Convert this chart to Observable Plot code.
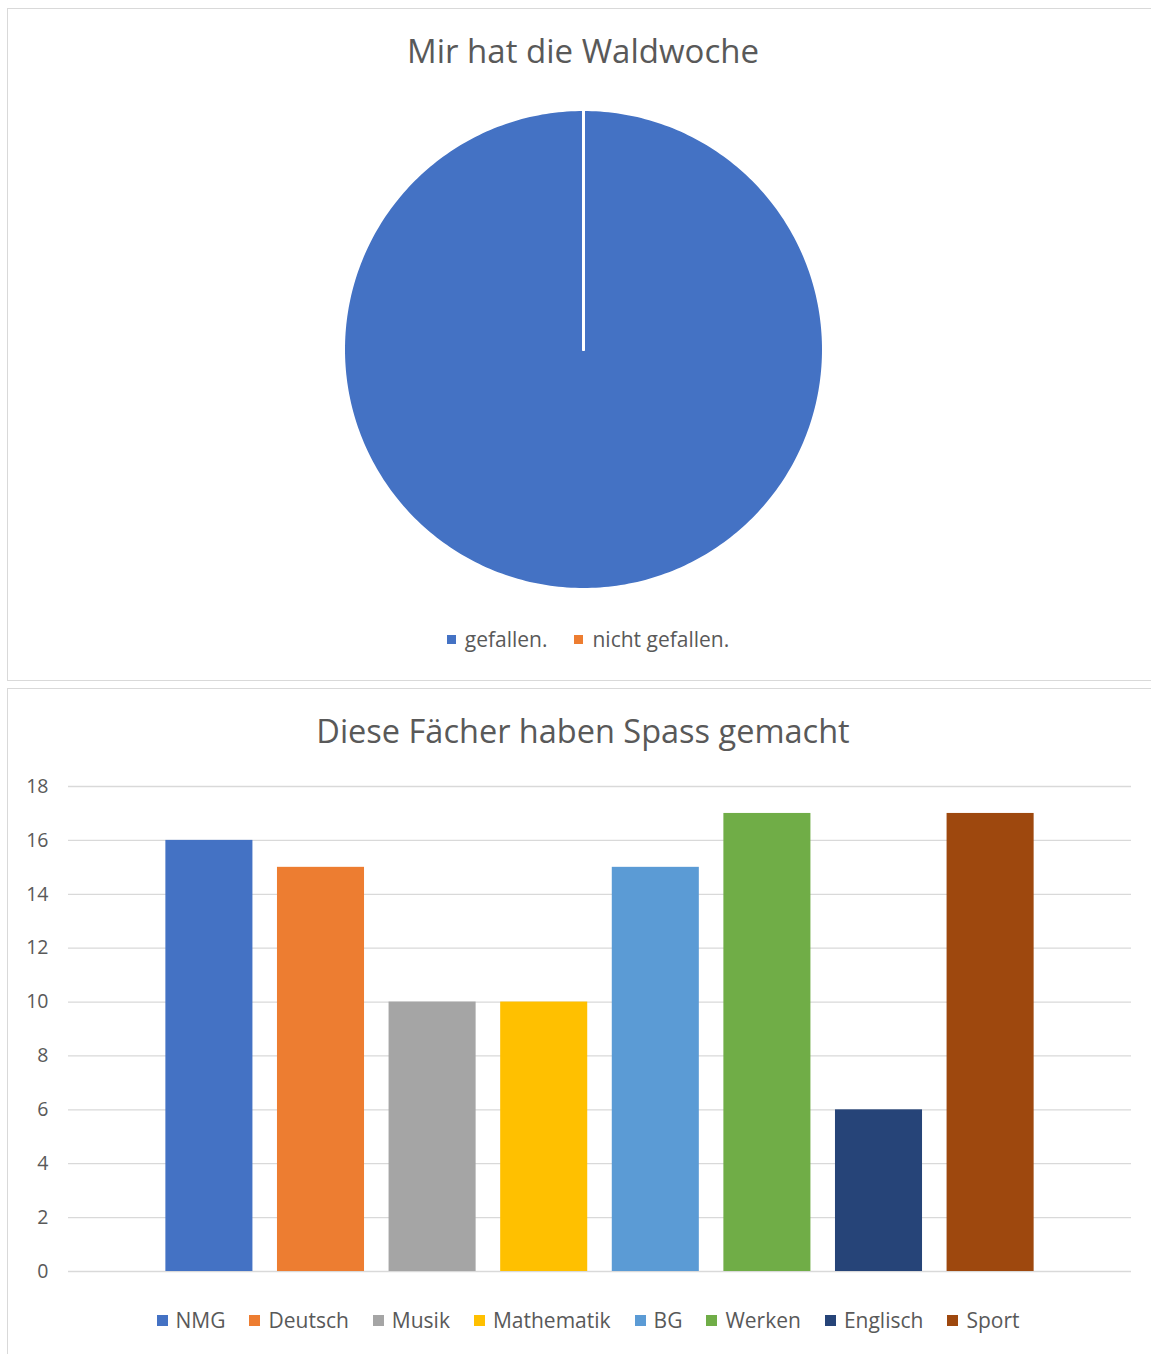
<!DOCTYPE html>
<html>
<head>
<meta charset="utf-8">
<script src="https://cdn.jsdelivr.net/npm/d3@7"></script>
<script src="https://cdn.jsdelivr.net/npm/@observablehq/plot@0.6"></script>
<style>
  html, body { margin: 0; padding: 0; background: #fff; width: 1151px; height: 1354px; overflow: hidden; }
  body { position: relative; font-family: "Open Sans", sans-serif; color: #595959; }
  .panel { position: absolute; border: 1.5px solid #d9d9d9; background: #fff; box-sizing: border-box; }
  .title { position: absolute; left: 0; width: 1166px; text-align: center; color: #595959; white-space: nowrap; }
  .legend { position: absolute; left: 0; width: 1176px; display: flex; justify-content: center; align-items: center; font-size: 21px; color: #595959; white-space: nowrap; }
  .legend .item { display: flex; align-items: center; }
  .legend .sw { display: inline-block; }
  .abs { position: absolute; }
</style>
</head>
<body>
<div class="panel" style="left:7px; top:8px; width:1160px; height:673px;"></div>
<div class="panel" style="left:7px; top:688px; width:1160px; height:700px;"></div>
<div class="title" id="t1" style="top:28px; font-size:33px;">Mir hat die Waldwoche</div>
<div class="title" id="t2" style="top:708px; font-size:32.5px;">Diese Fächer haben Spass gemacht</div>
<div class="abs" id="pie" style="left:341px; top:107px;"></div>
<div class="legend" id="leg1" style="top:625px; gap:27px;"></div>
<div class="abs" id="bars" style="left:0px; top:760px;"></div>
<div class="legend" id="leg2" style="top:1306px; gap:24px;"></div>
<script>
// ---- Data ----
const pieLabels = ["gefallen.", "nicht gefallen."];
const pieValues = [18, 0];
const pieColors = ["#4472C4", "#ED7D31"];

const subjects = ["NMG", "Deutsch", "Musik", "Mathematik", "BG", "Werken", "Englisch", "Sport"];
const subjectValues = [16, 15, 10, 10, 15, 17, 6, 17];
const subjectColors = ["#4472C4", "#ED7D31", "#A5A5A5", "#FFC000", "#5B9BD5", "#70AD47", "#264478", "#9E480E"];
const yTicks = [0, 2, 4, 6, 8, 10, 12, 14, 16, 18];

// ---- Pie ----
const arcs = d3.pie().sort(null)(pieValues);
const pieRows = [];
arcs.forEach((a, i) => {
  const label = pieLabels[i];
  pieRows.push({label, x: 0, y: 0});
  const n = Math.max(2, Math.ceil((a.endAngle - a.startAngle) / (Math.PI / 180)));
  for (let k = 0; k <= n; k++) {
    const t = a.startAngle + (a.endAngle - a.startAngle) * k / n;
    pieRows.push({label, x: Math.sin(t), y: Math.cos(t)});
  }
});
const pieSize = 484;
const pie = Plot.plot({
  width: pieSize, height: pieSize,
  margin: 2,
  x: {domain: [-1, 1], axis: null},
  y: {domain: [-1, 1], axis: null},
  color: {domain: pieLabels, range: pieColors},
  marks: [
    Plot.line(pieRows, {x: "x", y: "y", z: "label", fill: "label", stroke: "white", strokeWidth: 3, curve: "linear-closed"})
  ]
});
document.getElementById("pie").appendChild(pie);

// ---- Legends ----
function legend(el, labels, colors, sw, gapSw) {
  labels.forEach((l, i) => {
    const it = document.createElement("div");
    it.className = "item";
    const s = document.createElement("span");
    s.className = "sw";
    s.style.width = sw + "px"; s.style.height = sw + "px";
    s.style.background = colors[i];
    s.style.marginRight = gapSw + "px";
    const t = document.createElement("span");
    t.textContent = l;
    it.appendChild(s); it.appendChild(t);
    el.appendChild(it);
  });
}
legend(document.getElementById("leg1"), pieLabels, pieColors, 9, 9);
legend(document.getElementById("leg2"), subjects, subjectColors, 11, 8);

// ---- Bars ----
const barData = subjects.map((s, i) => ({subject: s, value: subjectValues[i]}));
const bars = Plot.plot({
  width: 1151, height: 530,
  marginTop: 26, marginBottom: 19, marginLeft: 68, marginRight: 20,
  style: {fontFamily: "Open Sans, sans-serif", fontSize: "19px", color: "#595959"},
  x: {domain: subjects, paddingInner: 0.22, paddingOuter: 0.8725, round: false, axis: null},
  y: {domain: [0, 18], axis: null},
  color: {domain: subjects, range: subjectColors},
  marks: [
    Plot.ruleY(yTicks, {stroke: "#d9d9d9", strokeWidth: 1.3}),
    Plot.barY(barData, {x: "subject", y: "value", fill: "subject"}),
    Plot.axisY({ticks: yTicks, tickSize: 0, tickPadding: 20, anchor: "left", label: null, fill: "#595959", fontSize: 19.5})
  ]
});
document.getElementById("bars").appendChild(bars);
</script>
</body>
</html>
